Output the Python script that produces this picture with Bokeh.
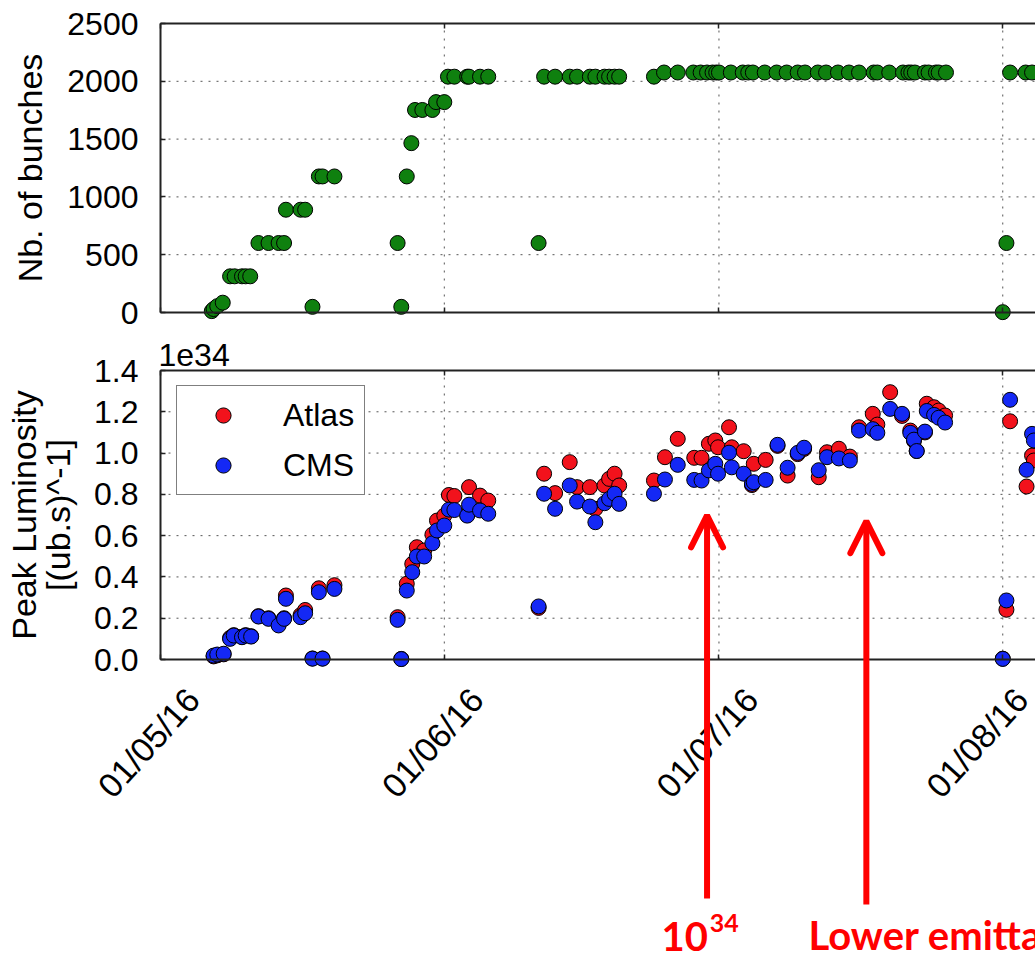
import numpy as np
import pandas as pd
from math import pi, radians
from bokeh.plotting import figure
from bokeh.layouts import column
from bokeh.models import (Range1d, FixedTicker, DatetimeTickFormatter, DatetimeAxis, LinearAxis,
                          NumeralTickFormatter, Legend, LegendItem, Arrow, OpenHead)
from bokeh.core.properties import value
from bokeh.embed import file_html
from bokeh.resources import INLINE

# ---------------- data (days counted from 01/05/16 00:00) ----------------
bunch_days = [5.6, 5.8, 6.2, 6.8,
              7.6, 8.1, 8.9, 9.3, 9.8,
              10.7, 11.8, 12.9, 13.5,
              13.7, 15.3, 15.8,
              16.6,
              17.3, 17.7, 19.0,
              25.9, 26.3, 26.9, 27.4, 27.8, 28.6, 29.7, 30.1, 31.0,
              31.4, 32.1, 33.5, 33.7, 34.9, 35.8,
              41.3, 41.9, 43.1, 44.7, 45.5, 46.9, 47.5, 48.5, 49.0, 49.6, 50.1,
              53.9, 55.0, 56.5, 58.2, 59.0, 59.7, 60.3, 60.7, 61.0, 62.3, 63.6,
              64.2, 64.7, 66.0, 67.3, 68.4, 69.6, 70.4, 71.8, 72.7, 74.0,
              75.2, 76.3, 77.9, 78.3, 79.6, 81.1, 81.7, 82.0, 82.4, 83.5,
              83.9, 84.7, 85.0, 85.8,
              92.0, 92.4, 92.8, 94.5, 95.2]
bunch_count = [12, 30, 55, 85,
               313, 313, 313, 313, 313,
               601, 601, 601, 601,
               889, 889, 889,
               49,
               1177, 1177, 1177,
               601, 49, 1177, 1465, 1752, 1752, 1752, 1820, 1820,
               2040, 2040, 2040, 2040, 2040, 2040,
               601, 2040, 2040, 2040, 2040, 2040, 2040, 2040, 2040, 2040, 2040,
               2040, 2076, 2076, 2076, 2076, 2076, 2076, 2076, 2076, 2076, 2076,
               2076, 2076, 2076, 2076, 2076, 2076, 2076, 2076, 2076, 2076,
               2076, 2076, 2076, 2076, 2076, 2076, 2076, 2076, 2076, 2076,
               2076, 2076, 2076, 2076,
               3, 601, 2076, 2076, 2076]

lumi_days = [5.8, 6.2, 6.9, 7.6, 8.0, 8.9, 9.3, 9.9, 10.7, 11.8,
             12.9, 13.5, 13.7, 15.3, 15.8, 16.6, 17.7, 17.3, 19.0,
             25.9, 26.3, 26.9, 27.5, 28.0, 28.8, 29.7, 30.2, 31.0, 31.5,
             32.1, 33.5, 33.7, 34.9, 35.8,
             41.3, 41.9, 43.1, 44.7, 45.5, 46.9, 47.5, 48.5, 49.0, 49.6, 50.1,
             53.9, 55.1, 56.5, 58.3, 59.1, 59.9, 60.6, 60.9,
             62.1, 62.4, 63.7, 64.6, 64.8, 66.1, 67.4, 68.5, 69.6, 70.3,
             71.9, 72.8, 74.1, 75.3, 76.3, 77.8, 78.3, 79.7, 81.0, 81.9,
             82.3, 82.6, 83.5, 83.7, 84.5, 85.0, 85.7,
             92.0, 92.4, 92.8, 94.6, 95.2, 95.4]
atlas_lumi = [0.015, 0.020, 0.025, 0.105, 0.118, 0.110, 0.118, 0.113, 0.210, 0.200,
              0.170, 0.200, 0.310, 0.215, 0.240, 0.005, 0.005, 0.345, 0.360,
              0.205, 0.003, 0.367, 0.463, 0.544, 0.528, 0.605, 0.673, 0.697, 0.797,
              0.792, 0.700, 0.835, 0.794, 0.770,
              0.250, 0.900, 0.806, 0.956, 0.835, 0.835, 0.730, 0.843, 0.875, 0.900, 0.843,
              0.867, 0.980, 1.069, 0.977, 0.977, 1.045, 1.061, 1.028,
              1.125, 1.028, 1.009, 0.845, 0.948, 0.967, 1.035, 0.891, 0.995, 1.020,
              0.883, 1.004, 1.021, 0.983, 1.125, 1.190, 1.138, 1.295, 1.180, 1.109,
              1.060, 1.010, 1.100, 1.239, 1.222, 1.206, 1.182,
              0.004, 0.241, 1.154, 0.838, 0.988, 0.964]
cms_lumi = [0.019, 0.024, 0.028, 0.100, 0.116, 0.108, 0.116, 0.111, 0.208, 0.197,
            0.165, 0.197, 0.294, 0.205, 0.224, 0.004, 0.004, 0.326, 0.342,
            0.192, 0.002, 0.334, 0.423, 0.499, 0.499, 0.563, 0.625, 0.649, 0.726,
            0.724, 0.697, 0.750, 0.722, 0.706,
            0.257, 0.803, 0.730, 0.843, 0.765, 0.741, 0.665, 0.757, 0.778, 0.803, 0.754,
            0.803, 0.872, 0.943, 0.870, 0.867, 0.916, 0.948, 0.900,
            1.002, 0.931, 0.900, 0.851, 0.859, 0.870, 1.040, 0.929, 1.001, 1.026,
            0.917, 0.980, 0.974, 0.964, 1.109, 1.116, 1.098, 1.214, 1.190, 1.098,
            1.065, 1.010, 1.104, 1.204, 1.185, 1.171, 1.148,
            0.003, 0.286, 1.258, 0.919, 1.093, 1.061]

month_ticks = ["2016-05-01", "2016-06-01", "2016-07-01", "2016-08-01"]
bunch_ticks = [0, 500, 1000, 1500, 2000, 2500]
lumi_ticks = [0.0, 0.2, 0.4, 0.6, 0.8, 1.0, 1.2, 1.4]
series_names = ["Atlas", "CMS"]
top_ylabel = "Nb. of bunches"
bottom_ylabel = ["Peak Luminosity", "[(ub.s)^-1]"]
scale_text = "1e34"

# annotations (red arrows and notes)
arrow_days = [59.7, 77.1]
arrow_tip = [0.698, 0.670]
arrow_base = [-1.158, -1.187]
note_days = [54.72, 60.0, 70.78]
note_y = [-1.343, -1.278, -1.337]
note_text = ["10", "34", "Lower emittance"]
note_size = ["40px", "25px", "40px"]

# ---------------- geometry helpers ----------------
DAY = 86400000.0
PX_PER_DAY = 9.155
FRAME_LEFT = 160          # px position of 01/05/16
WIDTH = 1035
T0 = pd.Timestamp(month_ticks[0]).value / 1e6


def to_ms(days):
    return T0 + np.asarray(days, dtype=float) * DAY


month_ms = [pd.Timestamp(m).value / 1e6 for m in month_ticks]
X_MIN = T0 - FRAME_LEFT / PX_PER_DAY * DAY
X_MAX = T0 + (WIDTH - FRAME_LEFT) / PX_PER_DAY * DAY
LABEL_SHIFT = 3.55 * DAY

FONT = "Liberation Sans"
GREEN = "#0f800f"
RED = "#f2121c"
BLUE = "#1428f5"
AX = "#222222"
GRID = "#555555"
fmt = "%d/%m/%y"
dt_fmt = DatetimeTickFormatter(microseconds=fmt, milliseconds=fmt, seconds=fmt, minsec=fmt,
                               minutes=fmt, hourmin=fmt, hours=fmt, days=fmt, months=fmt,
                               years=fmt)


def base_fig(height, y0, y1):
    p = figure(width=WIDTH, height=height, x_axis_type=None, y_axis_type=None,
               x_range=Range1d(X_MIN, X_MAX), y_range=Range1d(y0, y1),
               output_backend="svg", toolbar_location=None, title=None,
               min_border=0, min_border_left=0, min_border_right=0,
               min_border_top=0, min_border_bottom=0)
    p.outline_line_color = None
    p.xgrid.visible = False
    p.ygrid.visible = False
    p.background_fill_color = "white"
    p.border_fill_color = "white"
    return p


def frame_axis(p, side, loc, ticks, bounds, x_range_name="default"):
    if side in ("below", "above"):
        ax = DatetimeAxis(fixed_location=loc, ticker=FixedTicker(ticks=ticks),
                          formatter=dt_fmt, bounds=bounds, x_range_name=x_range_name)
    else:
        ax = LinearAxis(fixed_location=loc, ticker=FixedTicker(ticks=ticks), bounds=bounds)
    ax.axis_line_color = AX
    ax.axis_line_width = 2
    ax.major_tick_in = 5
    ax.major_tick_out = 0
    ax.minor_tick_in = 0
    ax.minor_tick_out = 0
    ax.major_tick_line_color = AX
    ax.major_tick_line_width = 1.5
    ax.major_label_text_color = None
    p.add_layout(ax, side)
    return ax


def left_axis(p, ticks, fmt_=None):
    ax = frame_axis(p, "left", T0, ticks, (ticks[0], ticks[-1]))
    ax.major_label_text_font = FONT
    ax.major_label_text_font_size = "32px"
    ax.major_label_text_color = "black"
    ax.major_label_standoff = 22
    if fmt_ is not None:
        ax.formatter = fmt_
    return ax


def grid(p, yticks):
    p.segment(x0=month_ms, y0=yticks[0], x1=month_ms, y1=yticks[-1],
              line_color=GRID, line_dash="2 6", line_width=1)
    p.segment(x0=T0, y0=yticks, x1=X_MAX, y1=yticks,
              line_color=GRID, line_dash="2 6", line_width=1)


# ---------------- top panel: number of bunches ----------------
TOP_H = 338
top_ppu = 289 / (bunch_ticks[-1] - bunch_ticks[0])
p1 = base_fig(TOP_H, bunch_ticks[0] - 26 / top_ppu, bunch_ticks[-1] + 23 / top_ppu)
grid(p1, bunch_ticks)
frame_axis(p1, "below", bunch_ticks[0], month_ms, (T0, X_MAX))
frame_axis(p1, "above", bunch_ticks[-1], month_ms, (T0, X_MAX))
left_axis(p1, bunch_ticks)
p1.text(x=[T0], y=[(bunch_ticks[0] + bunch_ticks[-1]) / 2], text=[top_ylabel], angle=pi / 2,
        text_align="center", text_baseline="alphabetic", text_font=value(FONT),
        text_font_size="34px", text_color="black", x_offset=-131)
p1.scatter(to_ms(bunch_days), bunch_count, size=15, fill_color=GREEN,
           line_color="black", line_width=1)

# ---------------- bottom panel: peak luminosity ----------------
BOT_H = 621
ppu = 289 / (lumi_ticks[-1] - lumi_ticks[0])
p2 = base_fig(BOT_H, lumi_ticks[0] - 300 / ppu, lumi_ticks[-1] + 32 / ppu)
p2.extra_x_ranges = {"lbl": Range1d(X_MIN - LABEL_SHIFT, X_MAX - LABEL_SHIFT)}
grid(p2, lumi_ticks)
frame_axis(p2, "below", lumi_ticks[0], month_ms, (T0, X_MAX))
frame_axis(p2, "above", lumi_ticks[-1], month_ms, (T0, X_MAX))
lbl = DatetimeAxis(x_range_name="lbl", fixed_location=lumi_ticks[0],
                   ticker=FixedTicker(ticks=month_ms), formatter=dt_fmt)
lbl.axis_line_color = None
lbl.major_tick_line_color = None
lbl.minor_tick_line_color = None
lbl.major_tick_in = 0
lbl.major_tick_out = 0
lbl.major_label_orientation = radians(48)
lbl.major_label_standoff = 34
lbl.major_label_text_font = FONT
lbl.major_label_text_font_size = "34px"
lbl.major_label_text_color = "black"
p2.add_layout(lbl, "below")
left_axis(p2, lumi_ticks, NumeralTickFormatter(format="0.0"))
ymid = (lumi_ticks[0] + lumi_ticks[-1]) / 2
for txt, off in zip(bottom_ylabel, [-137, -103]):
    p2.text(x=[T0], y=[ymid], text=[txt], angle=pi / 2, text_align="center",
            text_baseline="alphabetic", text_font=value(FONT), text_font_size="34px",
            text_color="black", x_offset=off)

r_atlas = p2.scatter(to_ms(lumi_days), atlas_lumi, size=15, fill_color=RED,
                     line_color="black", line_width=1)
r_cms = p2.scatter(to_ms(lumi_days), cms_lumi, size=15, fill_color=BLUE,
                   line_color="black", line_width=1)

p2.text(x=[T0], y=[lumi_ticks[-1]], text=[scale_text], text_font=value(FONT),
        text_font_size="32px", text_baseline="alphabetic", text_color="black",
        x_offset=-2, y_offset=-16)

legend = Legend(items=[LegendItem(label=series_names[0], renderers=[r_atlas]),
                       LegendItem(label=series_names[1], renderers=[r_cms])],
                location=(176, 464), padding=10, spacing=12, margin=0,
                glyph_width=72, glyph_height=38, label_standoff=24,
                label_text_font=FONT, label_text_font_size="32px", label_text_color="black",
                border_line_color="black", border_line_width=1.5,
                background_fill_color="white", background_fill_alpha=1)
p2.add_layout(legend)

for d, tip, base in zip(arrow_days, arrow_tip, arrow_base):
    x = float(to_ms([d])[0])
    p2.add_layout(Arrow(end=OpenHead(size=32, line_color="#ff0000", line_width=6,
                                     line_cap="round"),
                        x_start=x, y_start=base, x_end=x, y_end=tip,
                        line_color="#ff0000", line_width=6))

for d, yv, t, s in zip(note_days, note_y, note_text, note_size):
    p2.text(x=[float(to_ms([d])[0])], y=[yv], text=[t], text_font=value("Lato"),
            text_font_style="bold", text_font_size=s, text_color="#ff0000",
            text_baseline="alphabetic", text_align="left")

layout = column(p1, p2, spacing=0)
with open("out.html", "w") as f:
    f.write(file_html(layout, INLINE))
